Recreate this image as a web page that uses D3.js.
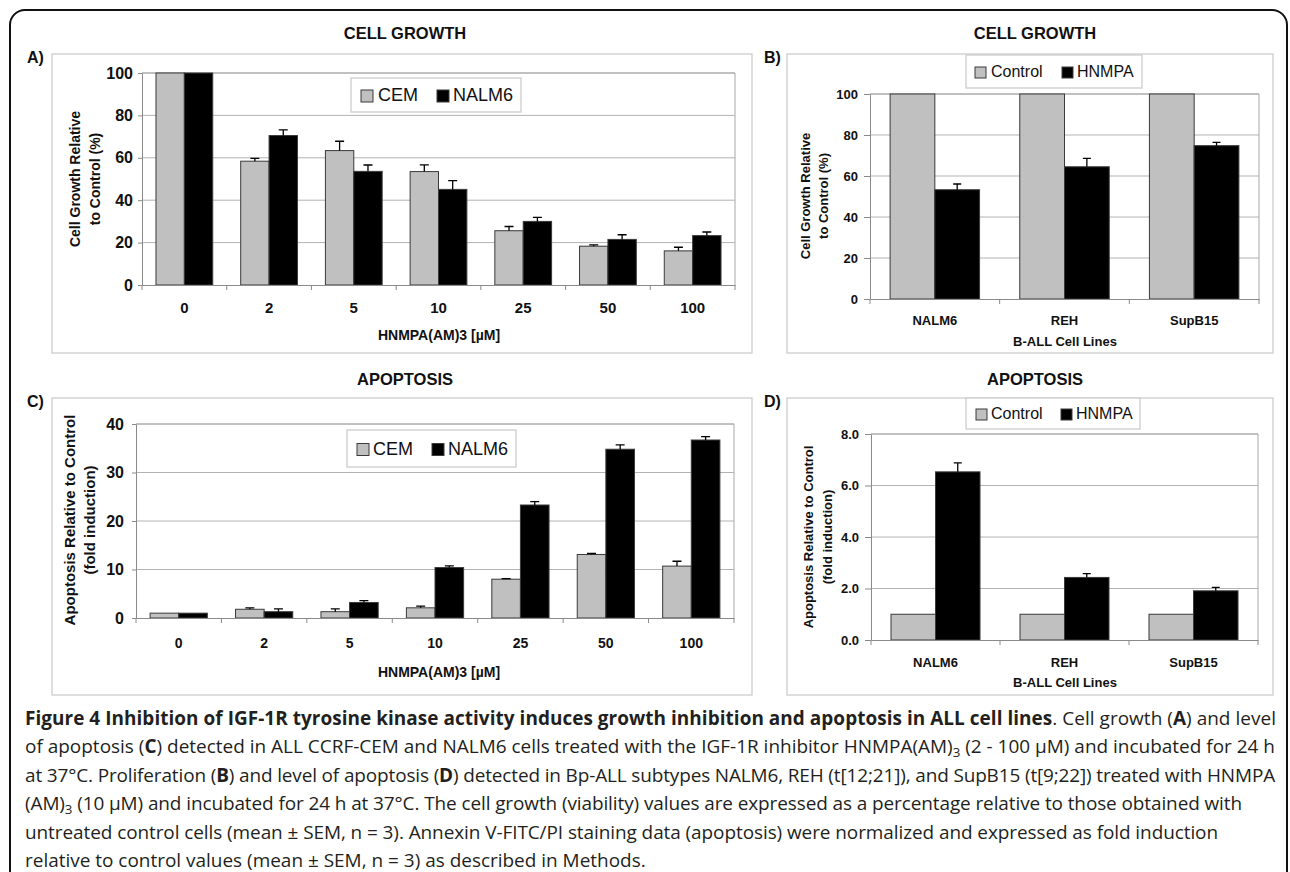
<!DOCTYPE html>
<html><head><meta charset="utf-8">
<script src="https://cdn.jsdelivr.net/npm/d3@7"></script>
<style>body{margin:0;background:#fff} svg{display:block}</style>
</head><body>
<svg id="c" width="1290" height="872"></svg>
<script>
// ---------- DATA ----------
const doseCats = ["0","2","5","10","25","50","100"];
const cemGrowth      = [100, 58.4, 63.4, 53.5, 25.6, 18.3, 16.1];
const cemGrowthErr   = [0, 1.3, 4.4, 3.2, 2.0, 0.6, 1.7];
const nalmGrowth     = [100, 70.5, 53.6, 45.1, 30.0, 21.5, 23.3];
const nalmGrowthErr  = [0, 2.7, 3.0, 4.1, 1.9, 2.2, 1.7];

const cellLines = ["NALM6","REH","SupB15"];
const ctrlGrowth     = [100, 100, 100];
const hnmpaGrowth    = [53.3, 64.5, 74.8];
const hnmpaGrowthErr = [2.8, 4.1, 1.6];

const cemApop      = [1.0, 1.8, 1.3, 2.1, 8.0, 13.1, 10.7];
const cemApopErr   = [0, 0.3, 0.6, 0.35, 0.1, 0.2, 1.0];
const nalmApop     = [1.0, 1.3, 3.2, 10.4, 23.3, 34.8, 36.7];
const nalmApopErr  = [0, 0.6, 0.4, 0.35, 0.7, 0.9, 0.7];

const ctrlApop     = [1.0, 1.0, 1.0];
const hnmpaApop    = [6.53, 2.43, 1.91];
const hnmpaApopErr = [0.35, 0.15, 0.13];

const growthTicks = [0, 20, 40, 60, 80, 100];
const apopTicksC  = [0, 10, 20, 30, 40];
const apopTicksD  = [0, 2, 4, 6, 8];

// ---------- DRAW ----------
const GRAY = "#c0c0c0", BLACK = "#000";
const svg = d3.select("#c");
svg.append("rect").attr("x",10).attr("y",10).attr("width",1277).attr("height",900)
  .attr("rx",15).attr("fill","none").attr("stroke","#111").attr("stroke-width",2);

function panel(cfg){
  const g = svg.append("g");
  const b = cfg.box, p = cfg.plot;
  g.append("rect").attr("x",b[0]).attr("y",b[1]).attr("width",b[2]-b[0]).attr("height",b[3]-b[1])
    .attr("fill","#fff").attr("stroke","#cdcdcd").attr("stroke-width",1.3);

  const x = d3.scaleBand().domain(cfg.cats).range([p[0],p[2]]).paddingInner(cfg.pad).paddingOuter(cfg.pad/2);
  const xs = d3.scaleBand().domain(cfg.series.map(s=>s.name)).range([0,x.bandwidth()]);
  const y = d3.scaleLinear().domain(cfg.domain).range([p[3],p[1]]);

  g.selectAll(null).data(cfg.ticks.filter(t=>t!==cfg.domain[0])).join("line")
    .attr("x1",p[0]).attr("x2",p[2]).attr("y1",d=>y(d)).attr("y2",d=>y(d))
    .attr("stroke","#b3b3b3").attr("stroke-width",1);
  g.append("path").attr("d",`M${p[0]},${p[1]}H${p[2]}V${p[3]}`).attr("fill","none").attr("stroke","#a8a8a8");

  cfg.series.forEach(s=>{
    const rows = cfg.cats.map((c,i)=>({c, v:s.values[i], e:s.errs?s.errs[i]:0}));
    g.selectAll(null).data(rows).join("rect")
      .attr("x",d=>x(d.c)+xs(s.name)).attr("width",xs.bandwidth())
      .attr("y",d=>y(d.v)).attr("height",d=>y(cfg.domain[0])-y(d.v))
      .attr("fill",s.color).attr("stroke","#3a3a3a").attr("stroke-width",1);
    const cap = cfg.cap;
    g.selectAll(null).data(rows.filter(d=>d.e>0)).join("path")
      .attr("d",d=>{
        const cx = x(d.c)+xs(s.name)+xs.bandwidth()/2;
        return `M${cx},${y(d.v)}V${y(d.v+d.e)}M${cx-cap/2},${y(d.v+d.e)}H${cx+cap/2}`;
      })
      .attr("stroke","#000").attr("stroke-width",1.3).attr("fill","none");
  });

  const F = "Liberation Sans, Arial, sans-serif";
  const ya = g.append("g").attr("transform",`translate(${p[0]},0)`)
    .call(d3.axisLeft(y).tickValues(cfg.ticks).tickFormat(cfg.fmt).tickSize(cfg.ytick).tickSizeOuter(0).tickPadding(cfg.ypad));
  ya.select(".domain").attr("stroke","#8a8a8a");
  ya.selectAll(".tick line").attr("stroke","#8a8a8a");
  ya.selectAll("text").attr("font-family",F).attr("font-weight","bold")
    .attr("font-size",cfg.yfs).attr("fill","#111");

  const xa = g.append("g").attr("transform",`translate(0,${p[3]})`)
    .call(d3.axisBottom(x).tickSize(0).tickSizeOuter(0));
  xa.select(".domain").attr("stroke","#8a8a8a");
  xa.selectAll("text").attr("font-family",F).attr("font-weight","bold")
    .attr("font-size",cfg.xfs).attr("fill","#111").attr("y",cfg.xlab).attr("dy","0.35em");
  const bounds = cfg.cats.map(c=>x(c)-x.step()*cfg.pad/2).concat([p[2]]);
  g.selectAll(null).data(bounds).join("line")
    .attr("x1",d=>d).attr("x2",d=>d).attr("y1",p[3]).attr("y2",p[3]+5).attr("stroke","#8a8a8a");

  g.append("text").attr("x",cfg.xt[0]).attr("y",cfg.xt[1]).attr("dy","0.35em").attr("text-anchor","middle")
    .attr("font-family",F).attr("font-weight","bold").attr("font-size",cfg.xtfs).attr("fill","#111").text(cfg.xtitle);
  cfg.ytitle.forEach((t,i)=>{
    g.append("text").attr("transform",`translate(${cfg.yt[i]},${cfg.ytc}) rotate(-90)`).attr("dy","0.35em")
      .attr("text-anchor","middle").attr("font-family",F).attr("font-weight","bold")
      .attr("font-size",cfg.ytfs).attr("fill","#111").text(t);
  });
  g.append("text").attr("x",cfg.title[1]).attr("y",cfg.title[2]).attr("dy","0.35em").attr("text-anchor","middle")
    .attr("font-family",F).attr("font-weight","bold").attr("font-size",16.5).attr("fill","#111").text(cfg.title[0]);
  g.append("text").attr("x",cfg.letter[1]).attr("y",cfg.letter[2]).attr("dy","0.35em")
    .attr("font-family",F).attr("font-weight","bold").attr("font-size",16).attr("fill","#111").text(cfg.letter[0]);
  const L = cfg.legend;
  g.append("rect").attr("x",L.box[0]).attr("y",L.box[1]).attr("width",L.box[2]-L.box[0]).attr("height",L.box[3]-L.box[1])
    .attr("fill","#fff").attr("stroke","#cdcdcd").attr("stroke-width",1.3);
  const cy = (L.box[1]+L.box[3])/2;
  cfg.series.forEach((s,i)=>{
    g.append("rect").attr("x",L.sw[i]).attr("y",cy-L.ss/2+1).attr("width",L.ss).attr("height",L.ss)
      .attr("fill",s.color).attr("stroke","#3a3a3a").attr("stroke-width",1);
    g.append("text").attr("x",L.tx[i]).attr("y",cy).attr("dy","0.35em").attr("font-family",F)
      .attr("font-size",L.fs).attr("fill","#111").text(s.name);
  });
}

panel({
  box:[52,54,752,353], plot:[142,73,735,285], cats:doseCats, pad:0.33, domain:[0,100], ticks:growthTicks,
  fmt:d3.format("d"), ytick:4, ypad:5, yfs:16, xfs:15, xlab:23, cap:9,
  series:[{name:"CEM",values:cemGrowth,errs:cemGrowthErr,color:GRAY},{name:"NALM6",values:nalmGrowth,errs:nalmGrowthErr,color:BLACK}],
  xtitle:"HNMPA(AM)3 [µM]", xt:[439,335], xtfs:14,
  ytitle:["Cell Growth Relative","to Control (%)"], yt:[75,95], ytc:179, ytfs:14,
  title:["CELL GROWTH",405,33], letter:["A)",27,57],
  legend:{box:[351,78,521,112], sw:[361,437], tx:[378,453], ss:12, fs:18}
});
panel({
  box:[787,54,1273,353], plot:[870,94,1259,299], cats:cellLines, pad:0.31, domain:[0,100], ticks:growthTicks,
  fmt:d3.format("d"), ytick:6, ypad:6, yfs:13, xfs:13, xlab:21, cap:8,
  series:[{name:"Control",values:ctrlGrowth,errs:null,color:GRAY},{name:"HNMPA",values:hnmpaGrowth,errs:hnmpaGrowthErr,color:BLACK}],
  xtitle:"B-ALL Cell Lines", xt:[1065,341], xtfs:13,
  ytitle:["Cell Growth Relative","to Control (%)"], yt:[805,823], ytc:196, ytfs:13,
  title:["CELL GROWTH",1035,33], letter:["B)",764,57],
  legend:{box:[966,55,1142,88], sw:[975,1062], tx:[991,1077], ss:11, fs:16}
});
panel({
  box:[52,398,752,695], plot:[136,424,734,618], cats:doseCats, pad:0.33, domain:[0,40], ticks:apopTicksC,
  fmt:d3.format("d"), ytick:4, ypad:8, yfs:16, xfs:14, xlab:25, cap:9,
  series:[{name:"CEM",values:cemApop,errs:cemApopErr,color:GRAY},{name:"NALM6",values:nalmApop,errs:nalmApopErr,color:BLACK}],
  xtitle:"HNMPA(AM)3 [µM]", xt:[439,672], xtfs:14,
  ytitle:["Apoptosis Relative to Control","(fold induction)"], yt:[70,90], ytc:520, ytfs:15,
  title:["APOPTOSIS",405,379], letter:["C)",27,401],
  legend:{box:[347,430,516,467], sw:[357,432], tx:[373,448], ss:12, fs:18}
});
panel({
  box:[787,398,1273,695], plot:[871,434,1258,640], cats:cellLines, pad:0.31, domain:[0,8], ticks:apopTicksD,
  fmt:d3.format(".1f"), ytick:6, ypad:6, yfs:13, xfs:13, xlab:22, cap:8,
  series:[{name:"Control",values:ctrlApop,errs:null,color:GRAY},{name:"HNMPA",values:hnmpaApop,errs:hnmpaApopErr,color:BLACK}],
  xtitle:"B-ALL Cell Lines", xt:[1065,682], xtfs:13,
  ytitle:["Apoptosis Relative to Control","(fold induction)"], yt:[808,827], ytc:537, ytfs:13,
  title:["APOPTOSIS",1035,379], letter:["D)",764,401],
  legend:{box:[966,398,1140,429], sw:[976,1061], tx:[991,1076], ss:11, fs:16}
});

// ---------- CAPTION ----------
const captionLines = [
  [["Figure 4 Inhibition of IGF-1R tyrosine kinase activity induces growth inhibition and apoptosis in ALL cell lines","b"],[". Cell growth (",""],["A","b"],[") and level",""]],
  [["of apoptosis (",""],["C","b"],[") detected in ALL CCRF-CEM and NALM6 cells treated with the IGF-1R inhibitor HNMPA(AM)",""],["3","s"],[" (2 - 100 µM) and incubated for 24 h",""]],
  [["at 37°C. Proliferation (",""],["B","b"],[") and level of apoptosis (",""],["D","b"],[") detected in Bp-ALL subtypes NALM6, REH (t[12;21]), and SupB15 (t[9;22]) treated with HNMPA",""]],
  [["(AM)",""],["3","s"],[" (10 µM) and incubated for 24 h at 37°C. The cell growth (viability) values are expressed as a percentage relative to those obtained with",""]],
  [["untreated control cells (mean ± SEM, n = 3). Annexin V-FITC/PI staining data (apoptosis) were normalized and expressed as fold induction",""]],
  [["relative to control values (mean ± SEM, n = 3) as described in Methods.",""]]
];
const lineEnds = [1276, 1275, 1275, 1242, 1218, 0];
const X0 = 25;
const cap = svg.append("g").attr("font-family","Open Sans, Noto Sans, sans-serif").attr("fill","#231f20");
const capTexts = captionLines.map((segs,i)=>{
  const t = cap.append("text").attr("x",X0).attr("y",725+i*28.4).attr("font-size",17);
  segs.forEach(([s,st],k)=>{
    const ts = t.append("tspan").text(s);
    if(st==="b") ts.attr("font-weight","bold");
    if(st==="s") ts.attr("font-size","0.7em").attr("dy",4);
    else if (k>0 && segs[k-1][1]==="s") ts.attr("dy",-4);
  });
  return t;
});
const fs = 17*1250/capTexts[1].node().getComputedTextLength();
capTexts.forEach(t=>t.attr("font-size",fs));
capTexts.forEach((t,i)=>{
  if(!lineEnds[i]) return;
  const len = t.node().getComputedTextLength();
  const n = t.text().length;
  t.attr("letter-spacing", ((lineEnds[i]-X0)-len)/n);
});
</script>
</body></html>
